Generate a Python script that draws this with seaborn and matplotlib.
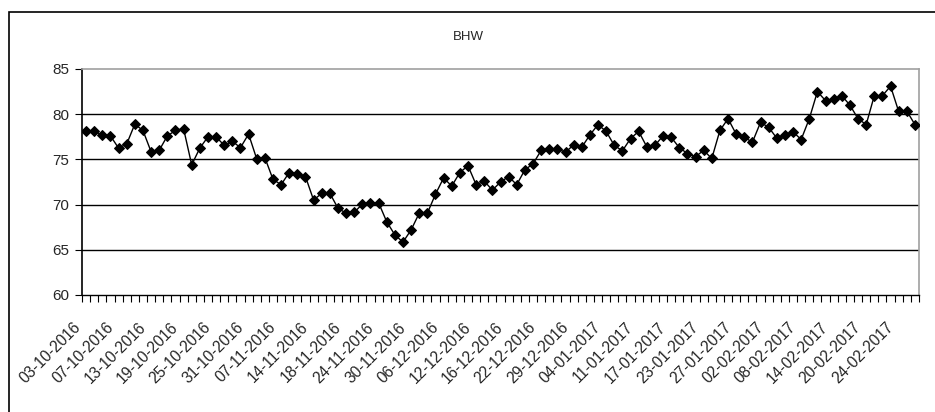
import matplotlib
matplotlib.use("Agg")
import matplotlib.pyplot as plt
import matplotlib.transforms as mtransforms
import seaborn as sns
import pandas as pd
import numpy as np
from matplotlib.patches import Rectangle

title = "BHW"
values = [
    78.1, 78.1, 77.7, 77.6, 76.25, 76.7, 78.9, 78.2, 75.85, 76.0,
    77.6, 78.2, 78.4, 74.4, 76.25, 77.5, 77.5, 76.55, 77.0, 76.3,
    77.8, 75.05, 75.2, 72.8, 72.2, 73.55, 73.4, 73.1, 70.5, 71.25,
    71.25, 69.6, 69.05, 69.15, 70.05, 70.2, 70.2, 68.1, 66.65, 65.85,
    67.2, 69.05, 69.05, 71.15, 72.95, 72.05, 73.55, 74.3, 72.2, 72.6,
    71.6, 72.5, 73.1, 72.2, 73.85, 74.5, 76.0, 76.15, 76.15, 75.8,
    76.6, 76.35, 77.7, 78.85, 78.1, 76.55, 75.95, 77.3, 78.1, 76.4,
    76.55, 77.6, 77.45, 76.3, 75.65, 75.3, 76.0, 75.1, 78.2, 79.5,
    77.8, 77.45, 76.9, 79.1, 78.55, 77.35, 77.7, 78.05, 77.2, 79.5,
    82.5, 81.5, 81.7, 82.05, 81.0, 79.5, 78.85, 82.05, 82.05, 83.1,
    80.3, 80.35, 78.85,
]
tick_labels = [
    "03-10-2016", "07-10-2016", "13-10-2016", "19-10-2016", "25-10-2016",
    "31-10-2016", "07-11-2016", "14-11-2016", "18-11-2016", "24-11-2016",
    "30-11-2016", "06-12-2016", "12-12-2016", "16-12-2016", "22-12-2016",
    "29-12-2016", "04-01-2017", "11-01-2017", "17-01-2017", "23-01-2017",
    "27-01-2017", "02-02-2017", "08-02-2017", "14-02-2017", "20-02-2017",
    "24-02-2017",
]
label_step = 4
y_ticks = [60, 65, 70, 75, 80, 85]

sns.set_style("white")
plt.rcParams["font.family"] = ["Liberation Sans", "DejaVu Sans"]

df = pd.DataFrame({"idx": np.arange(len(values)), "value": values})

fig = plt.figure(figsize=(9.35, 4.12), dpi=100)
ax = fig.add_axes([82 / 935, 1 - 295 / 412, (919 - 82) / 935, (295 - 69) / 412])

sns.lineplot(data=df, x="idx", y="value", ax=ax, color="black", linewidth=1.0,
             marker="D", markersize=5.5, markeredgecolor="black",
             markerfacecolor="black", zorder=3)

n = len(values)
ax.set_xlim(-0.5, n - 0.5)
ax.set_ylim(y_ticks[0], y_ticks[-1])
ax.set_yticks(y_ticks)
ax.set_yticklabels([str(v) for v in y_ticks], fontsize=11)

pos = list(range(0, n, label_step))[:len(tick_labels)]
ax.set_xticks(pos)
ax.set_xticklabels(tick_labels, rotation=45, ha="right", rotation_mode="anchor",
                   fontsize=11.2)
ax.set_xticks(np.arange(-0.5, n, 1.0), minor=True)
ax.tick_params(axis="x", which="major", length=0, pad=10)
ax.tick_params(axis="x", which="minor", length=5, width=0.8, color="black",
               direction="out", bottom=True)
ax.tick_params(axis="y", length=5, width=0.8, color="black", direction="out",
               left=True, pad=4)

offset = mtransforms.ScaledTranslation(-0.13, -0.11, fig.dpi_scale_trans)
for lbl in ax.get_xticklabels():
    lbl.set_transform(lbl.get_transform() + offset)

for v in y_ticks[1:-1]:
    ax.axhline(v, color="black", linewidth=1.0, zorder=1)

ax.set_xlabel("")
ax.set_ylabel("")
ax.spines["left"].set_color("black")
ax.spines["left"].set_linewidth(1.2)
ax.spines["bottom"].set_color("black")
ax.spines["bottom"].set_linewidth(1.0)
ax.spines["top"].set_color("#a0a0a0")
ax.spines["top"].set_linewidth(1.2)
ax.spines["right"].set_color("#a0a0a0")
ax.spines["right"].set_linewidth(1.2)
for s in ax.spines.values():
    s.set_visible(True)

fig.text(468 / 935, 1 - 37 / 412, title, ha="center", va="center", fontsize=9.5)

fig.patches.append(Rectangle((9 / 935, -0.5), 2.0, 0.5 + (1 - 12 / 412),
                             transform=fig.transFigure, fill=False,
                             edgecolor="black", linewidth=1.2))

fig.savefig("out.png", dpi=100, facecolor="white")
